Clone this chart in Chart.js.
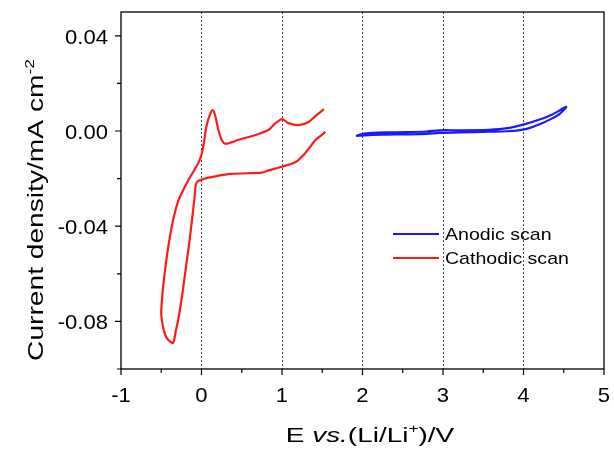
<!DOCTYPE html>
<html>
<head>
<meta charset="utf-8">
<script src="https://cdn.jsdelivr.net/npm/chart.js@4/dist/chart.umd.min.js"></script>
<style>
  html, body { margin: 0; padding: 0; background: #fff; }
  #wrap { width: 614px; height: 450px; position: relative; }
</style>
</head>
<body>
<div id="wrap"><canvas id="cv"></canvas></div>
<script>
// Cathodic scan (red), traced around the loop
const cathodicE = [1.52, 1.43, 1.33, 1.21, 1.08, 1.00, 0.92, 0.83, 0.67, 0.46, 0.30, 0.25, 0.21, 0.17, 0.14, 0.10, 0.06, 0.03, 0.00, -0.04, -0.10, -0.16, -0.23, -0.29, -0.35, -0.40, -0.44, -0.47, -0.49, -0.50, -0.47, -0.44, -0.39, -0.35, -0.32, -0.29, -0.24, -0.20, -0.16, -0.12, -0.09, -0.07, -0.04, 0.09, 0.37, 0.75, 0.83, 1.00, 1.17, 1.29, 1.42, 1.54];
const cathodicJ = [0.0092, 0.0067, 0.0038, 0.0025, 0.0033, 0.0050, 0.0033, 0.0004, -0.0017, -0.0037, -0.0054, -0.0037, 0.0004, 0.0065, 0.0088, 0.0065, 0.0017, -0.0050, -0.0100, -0.0135, -0.0170, -0.0205, -0.0250, -0.0295, -0.0370, -0.0460, -0.0550, -0.0635, -0.0705, -0.0770, -0.0835, -0.0865, -0.0885, -0.0890, -0.0840, -0.0795, -0.0690, -0.0590, -0.0490, -0.0380, -0.0290, -0.0225, -0.0210, -0.0196, -0.0180, -0.0175, -0.0166, -0.0150, -0.0130, -0.0092, -0.0037, -0.0004];

// Anodic scan (blue)
const anodicE = [1.92, 2.00, 2.12, 2.30, 2.54, 2.80, 2.95, 3.20, 3.57, 3.80, 4.03, 4.20, 4.35, 4.53, 4.45, 4.35, 4.20, 4.03, 3.80, 3.57, 3.20, 2.95, 2.80, 2.54, 2.30, 2.12, 1.95, 1.92];
const anodicJ = [-0.0021, -0.0012, -0.0008, -0.0006, -0.0005, -0.0002, 0.0003, 0.0003, 0.0005, 0.0012, 0.0030, 0.0048, 0.0068, 0.0101, 0.0072, 0.0052, 0.0028, 0.0008, -0.0001, -0.0003, -0.0006, -0.0008, -0.0012, -0.0014, -0.0015, -0.0016, -0.0020, -0.0021];

const xTicks = [-1, 0, 1, 2, 3, 4, 5];
const yTicks = [0.04, 0.00, -0.04, -0.08];
const seriesNames = ["Anodic scan", "Cathodic scan"];

const toPts = (xs, ys) => xs.map((x, i) => ({ x: x, y: ys[i] }));

// draws text stretched horizontally
function txt(ctx, s, x, y, font, sx, align) {
  ctx.save();
  ctx.font = font;
  const w = ctx.measureText(s).width * sx;
  let x0 = x;
  if (align === "right") x0 = x - w;
  if (align === "center") x0 = x - w / 2;
  ctx.translate(x0, y);
  ctx.scale(sx, 1);
  ctx.textAlign = "left";
  ctx.textBaseline = "alphabetic";
  ctx.fillText(s, 0, 0);
  ctx.restore();
  return w;
}

// rich text: parts [{t, sup, italic}]
function richWidth(ctx, parts, size, sx) {
  let w = 0;
  parts.forEach(p => {
    const fs = p.sup ? size * 0.62 : size;
    ctx.font = (p.italic ? "italic " : "") + fs + "px 'Liberation Sans', Arial";
    w += ctx.measureText(p.t).width * sx;
  });
  return w;
}
function richText(ctx, parts, x, y, size, sx) {
  let cx = x;
  parts.forEach(p => {
    const fs = p.sup ? size * 0.62 : size;
    const font = (p.italic ? "italic " : "") + fs + "px 'Liberation Sans', Arial";
    cx += txt(ctx, p.t, cx, p.sup ? y - size * 0.42 : y, font, sx, "left");
  });
}

const decor = {
  id: "decor",
  afterDraw(chart) {
    const ctx = chart.ctx;
    const a = chart.chartArea;
    const xs = chart.scales.x, ys = chart.scales.y;
    ctx.save();
    ctx.fillStyle = "#000";
    ctx.strokeStyle = "#000";
    ctx.lineWidth = 1.3;
    ctx.strokeRect(a.left, a.top, a.right - a.left, a.bottom - a.top);

    // tick marks
    ctx.lineWidth = 1.2;
    ctx.beginPath();
    for (let v = -1; v <= 5.001; v += 0.5) {
      const px = xs.getPixelForValue(v);
      const len = Math.abs(v - Math.round(v)) < 1e-6 ? 6 : 4;
      ctx.moveTo(px, a.bottom); ctx.lineTo(px, a.bottom + len);
    }
    for (let v = -0.1; v <= 0.0401; v += 0.02) {
      const py = ys.getPixelForValue(v);
      const major = Math.round(v * 100) % 4 === 0;
      ctx.moveTo(a.left, py); ctx.lineTo(a.left - (major ? 6 : 4), py);
    }
    ctx.stroke();

    // tick labels
    const tf = "21px 'Liberation Sans', Arial";
    xTicks.forEach(v => txt(ctx, String(v), xs.getPixelForValue(v), a.bottom + 33, tf, 1.05, "center"));
    yTicks.forEach(v => txt(ctx, v.toFixed(2), a.left - 13, ys.getPixelForValue(v) + 8, tf, 1.05, "right"));

    // x title
    const xt = [{ t: "E " }, { t: "vs.", italic: true }, { t: "(Li/Li" }, { t: "+", sup: true }, { t: ")/V" }];
    const xw = richWidth(ctx, xt, 21, 1.33);
    richText(ctx, xt, 370 - xw / 2, 442, 21, 1.33);

    // y title
    const yt = [{ t: "Current density/mA cm" }, { t: "-2", sup: true }];
    const yw = richWidth(ctx, yt, 22, 1.28);
    ctx.save();
    ctx.translate(43, 210);
    ctx.rotate(-Math.PI / 2);
    richText(ctx, yt, -yw / 2, 0, 22, 1.28);
    ctx.restore();

    // legend
    chart.data.datasets.forEach((ds, i) => {
      const ly = 234 + i * 24;
      ctx.strokeStyle = ds.borderColor;
      ctx.lineWidth = 2;
      ctx.beginPath();
      ctx.moveTo(393, ly); ctx.lineTo(439, ly);
      ctx.stroke();
      txt(ctx, ds.label, 445, ly + 6, "17px 'Liberation Sans', Arial", 1.15, "left");
    });
    ctx.restore();
  }
};

new Chart(document.getElementById("cv"), {
  type: "scatter",
  data: {
    datasets: [
      { label: seriesNames[0], data: toPts(anodicE, anodicJ), borderColor: "#1a1aff", showLine: true, pointRadius: 0, borderWidth: 2.2, tension: 0.25 },
      { label: seriesNames[1], data: toPts(cathodicE, cathodicJ), borderColor: "#ff1a1a", showLine: true, pointRadius: 0, borderWidth: 2.2, tension: 0.25 }
    ]
  },
  options: {
    responsive: true,
    maintainAspectRatio: false,
    animation: false,
    layout: { padding: { left: 121, right: 10, top: 12, bottom: 81 } },
    plugins: { legend: { display: false }, tooltip: { enabled: false } },
    scales: {
      x: {
        type: "linear", min: -1, max: 5,
        ticks: { display: false, stepSize: 1 },
        border: { display: false, dash: [2, 2] },
        grid: {
          drawTicks: false,
          color: c => (c.tick && c.tick.value > -1 && c.tick.value < 5) ? "#444" : "rgba(0,0,0,0)",
          lineWidth: 1
        },
        afterFit: s => { s.height = 0; }
      },
      y: {
        type: "linear", min: -0.1, max: 0.05,
        ticks: { display: false },
        border: { display: false },
        grid: { display: false },
        afterFit: s => { s.width = 0; }
      }
    }
  },
  plugins: [decor]
});
</script>
</body>
</html>
